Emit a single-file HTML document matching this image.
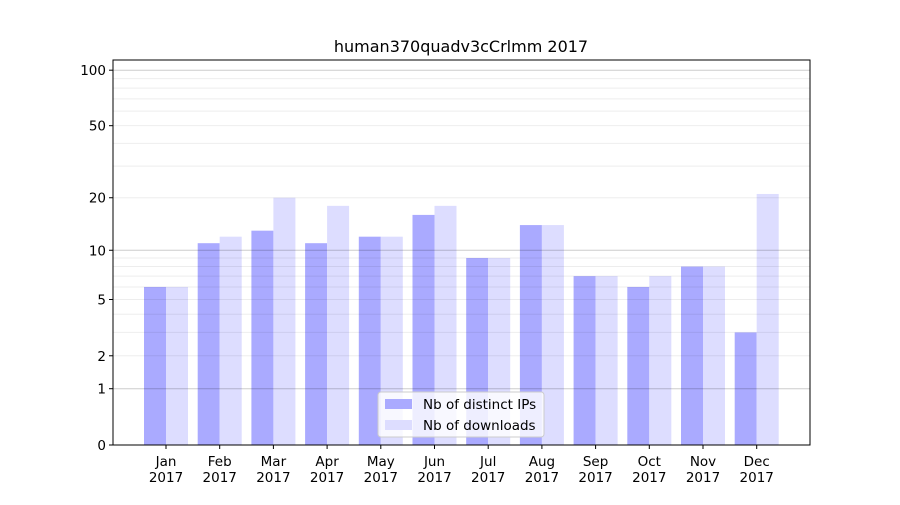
<!DOCTYPE html>
<html><head><meta charset="utf-8"><style>
body{margin:0;background:#fff}
svg text{font-family:"DejaVu Sans","Liberation Sans",sans-serif;font-size:13.5px;fill:#000}
</style></head><body>
<svg id="c" width="900" height="500" xmlns="http://www.w3.org/2000/svg">
<rect width="900" height="500" fill="#fff"/>
<text x="461" y="52" text-anchor="middle" style="font-size:16px">human370quadv3cCrlmm 2017</text>
<g id="bars"></g><g id="grid"></g><g id="axes"></g>
</svg>
<script>
const months=["Jan","Feb","Mar","Apr","May","Jun","Jul","Aug","Sep","Oct","Nov","Dec"];
const ips=[6,11,13,11,12,16,9,14,7,6,8,3];
const downloads=[6,12,20,18,12,18,9,14,7,7,8,21];
const yTicks=[0,1,2,5,10,20,50,100];
const NS="http://www.w3.org/2000/svg";
const L=113,R=810,T=60,B=445;
function y(v){return B-187*Math.log10(1+v);}
function xc(i){return 166+53.7*i;}
function mk(tag,attrs,parent){const e=document.createElementNS(NS,tag);for(const k in attrs)e.setAttribute(k,attrs[k]);parent.appendChild(e);return e;}
const bars=document.getElementById('bars'),grid=document.getElementById('grid'),axes=document.getElementById('axes');
months.forEach((m,i)=>{
  let b=mk('rect',{x:xc(i)-22,y:y(ips[i]),width:22,height:B-y(ips[i]),fill:'#aaaaff'},bars);
  
  
  let d=mk('rect',{x:xc(i),y:y(downloads[i]),width:22,height:B-y(downloads[i]),fill:'#ddddff'},bars);
  
  
  mk('line',{x1:xc(i),x2:xc(i),y1:B,y2:B+4,stroke:'#000'},axes);
  let t=mk('text',{x:xc(i),y:B+21,'text-anchor':'middle'},axes);t.textContent=m;
  
  
  let t2=mk('text',{x:xc(i),y:B+37,'text-anchor':'middle'},axes);t2.textContent='2017';
});
[2,3,4,5,6,7,8,9,20,30,40,50,60,70,80,90].forEach(v=>{
  mk('line',{x1:L,x2:R,y1:y(v),y2:y(v),stroke:'#000','stroke-opacity':0.07,'stroke-width':1},grid);
});
[1,10,100].forEach(v=>{
  mk('line',{x1:L,x2:R,y1:y(v),y2:y(v),stroke:'#000','stroke-opacity':0.2,'stroke-width':1},grid);
});
yTicks.forEach(v=>{
  mk('line',{x1:L-4,x2:L,y1:y(v),y2:y(v),stroke:'#000'},axes);
  let t=mk('text',{x:L-7,y:y(v)+5,'text-anchor':'end'},axes);t.textContent=v;
  
  
});
mk('rect',{x:L,y:T,width:R-L,height:B-T,fill:'none',stroke:'#000'},axes);
const lg=mk('g',{},axes);


mk('rect',{x:378,y:392,width:166,height:45,rx:3,fill:'#fff','fill-opacity':0.8,stroke:'#ccc'},lg);
mk('rect',{x:385,y:399,width:27,height:10,fill:'#aaaaff'},lg);
let l1=mk('text',{x:423,y:409},lg);l1.textContent='Nb of distinct IPs';
mk('rect',{x:385,y:420,width:27,height:10,fill:'#ddddff'},lg);
let l2=mk('text',{x:423,y:430},lg);l2.textContent='Nb of downloads';
</script>
</body></html>
